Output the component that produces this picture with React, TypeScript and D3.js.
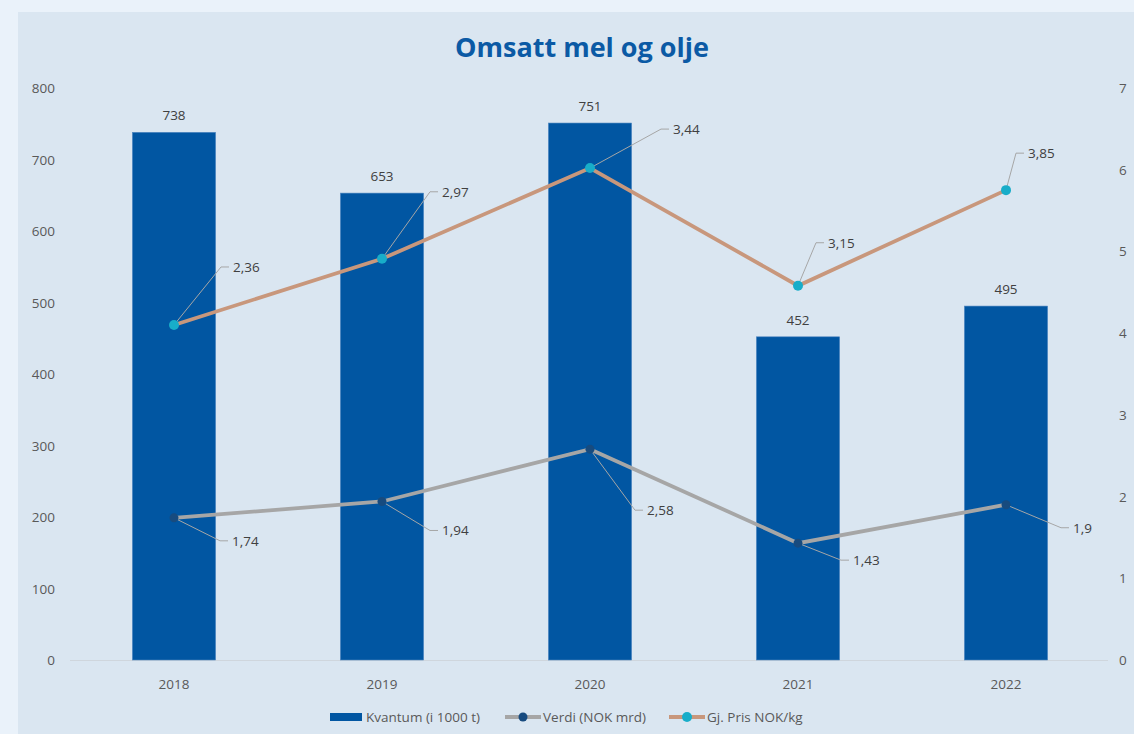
import * as d3 from 'd3';

const years = ['2018', '2019', '2020', '2021', '2022'];
const kvantum = [738, 653, 751, 452, 495];
const verdi = [1.74, 1.94, 2.58, 1.43, 1.9];
const pris = [2.36, 2.97, 3.44, 3.15, 3.85];
const leftTicks = [0, 100, 200, 300, 400, 500, 600, 700, 800];
const rightTicks = [0, 1, 2, 3, 4, 5, 6, 7];

// label offsets relative to the point (layout only)
const verdiLabelOff = [[58, 23], [60, 29], [57, 61], [55, 17], [67, 23]];
const prisLabelOff = [[59, -58], [60, -67], [83, -39], [30, -43], [22, -37]];

const W = 1134;
const H = 734;
const font = "'Open Sans', 'Noto Sans', sans-serif";
const txt = '#404040';
const axisTxt = '#595959';

const fmt = (v: number) => String(v).replace('.', ',');

export default function App() {
  const x = d3.scaleBand().domain(years).range([70, 1110]).paddingInner(0.6).paddingOuter(0.3);
  const yL = d3.scaleLinear().domain([0, 800]).range([660, 88]);
  const yR = d3.scaleLinear().domain([0, 7]).range([660, 88]);
  const cx = (i: number) => (x(years[i]) as number) + x.bandwidth() / 2;
  // price line is stacked on top of verdi
  const stacked = pris.map((p, i) => p + verdi[i]);

  const line = d3.line<number>().x((_, i) => cx(i)).y(d => yR(d));

  const leader = (px: number, py: number, lx: number, ly: number) => {
    const ex = lx - 12;
    return `M${px},${py}L${ex},${ly}L${lx - 4},${ly}`;
  };

  return (
    <svg width={W} height={H} style={{ position: 'absolute', left: 0, top: 0 }} fontFamily={font}>
      <rect x={0} y={0} width={W} height={H} fill="#eaf2fa" />
      <rect x={18} y={12} width={W - 18} height={H - 12} fill="#dae6f1" />
      <text x={582} y={57} textAnchor="middle" fontSize={27} fontWeight="bold" fill="#0b5aa5">
        Omsatt mel og olje
      </text>

      {leftTicks.map(t => (
        <text key={'l' + t} x={55} y={yL(t) + 5} textAnchor="end" fontSize={13.5} fill={axisTxt}>{t}</text>
      ))}
      {rightTicks.map(t => (
        <text key={'r' + t} x={1119} y={yR(t) + 5} fontSize={13.5} fill={axisTxt}>{t}</text>
      ))}
      <line x1={70} x2={1108} y1={660.5} y2={660.5} stroke="#cfd6dd" strokeWidth={1} />

      {kvantum.map((v, i) => (
        <g key={'b' + i}>
          <rect x={x(years[i])} y={yL(v)} width={x.bandwidth()} height={yL(0) - yL(v)} fill="#0156a2" stroke="#4f86c0" strokeWidth={0.6} />
          <text x={cx(i)} y={yL(v) - 12} textAnchor="middle" fontSize={13.5} fill={txt}>{v}</text>
        </g>
      ))}
      {years.map((yr, i) => (
        <text key={'x' + yr} x={cx(i)} y={689} textAnchor="middle" fontSize={13.5} fill={axisTxt}>{yr}</text>
      ))}

      <path d={line(verdi) as string} fill="none" stroke="#a6a6a6" strokeWidth={3.8} />
      <path d={line(stacked) as string} fill="none" stroke="#c8977c" strokeWidth={3.8} />

      {verdi.map((v, i) => {
        const px = cx(i), py = yR(v);
        const lx = px + verdiLabelOff[i][0], ly = py + verdiLabelOff[i][1];
        return (
          <g key={'v' + i}>
            <path d={leader(px, py, lx, ly)} fill="none" stroke="#a6a6a6" strokeWidth={1} />
            <circle cx={px} cy={py} r={4.5} fill="#174b7f" />
            <text x={lx} y={ly + 5} fontSize={13.5} fill={txt}>{fmt(v)}</text>
          </g>
        );
      })}
      {stacked.map((s, i) => {
        const px = cx(i), py = yR(s);
        const lx = px + prisLabelOff[i][0], ly = py + prisLabelOff[i][1];
        return (
          <g key={'p' + i}>
            <path d={leader(px, py, lx, ly)} fill="none" stroke="#a6a6a6" strokeWidth={1} />
            <circle cx={px} cy={py} r={5} fill="#18adc9" />
            <text x={lx} y={ly + 5} fontSize={13.5} fill={txt}>{fmt(pris[i])}</text>
          </g>
        );
      })}

      <g fontSize={13.5} fill={axisTxt}>
        <rect x={330} y={713} width={32} height={8} fill="#0156a2" />
        <text x={366} y={722}>Kvantum (i 1000 t)</text>
        <line x1={505} x2={541} y1={717} y2={717} stroke="#a6a6a6" strokeWidth={3.8} />
        <circle cx={523} cy={717} r={4.5} fill="#174b7f" />
        <text x={543} y={722}>Verdi (NOK mrd)</text>
        <line x1={669} x2={705} y1={717} y2={717} stroke="#c8977c" strokeWidth={3.8} />
        <circle cx={687} cy={717} r={5} fill="#18adc9" />
        <text x={707} y={722}>Gj. Pris NOK/kg</text>
      </g>
    </svg>
  );
}
